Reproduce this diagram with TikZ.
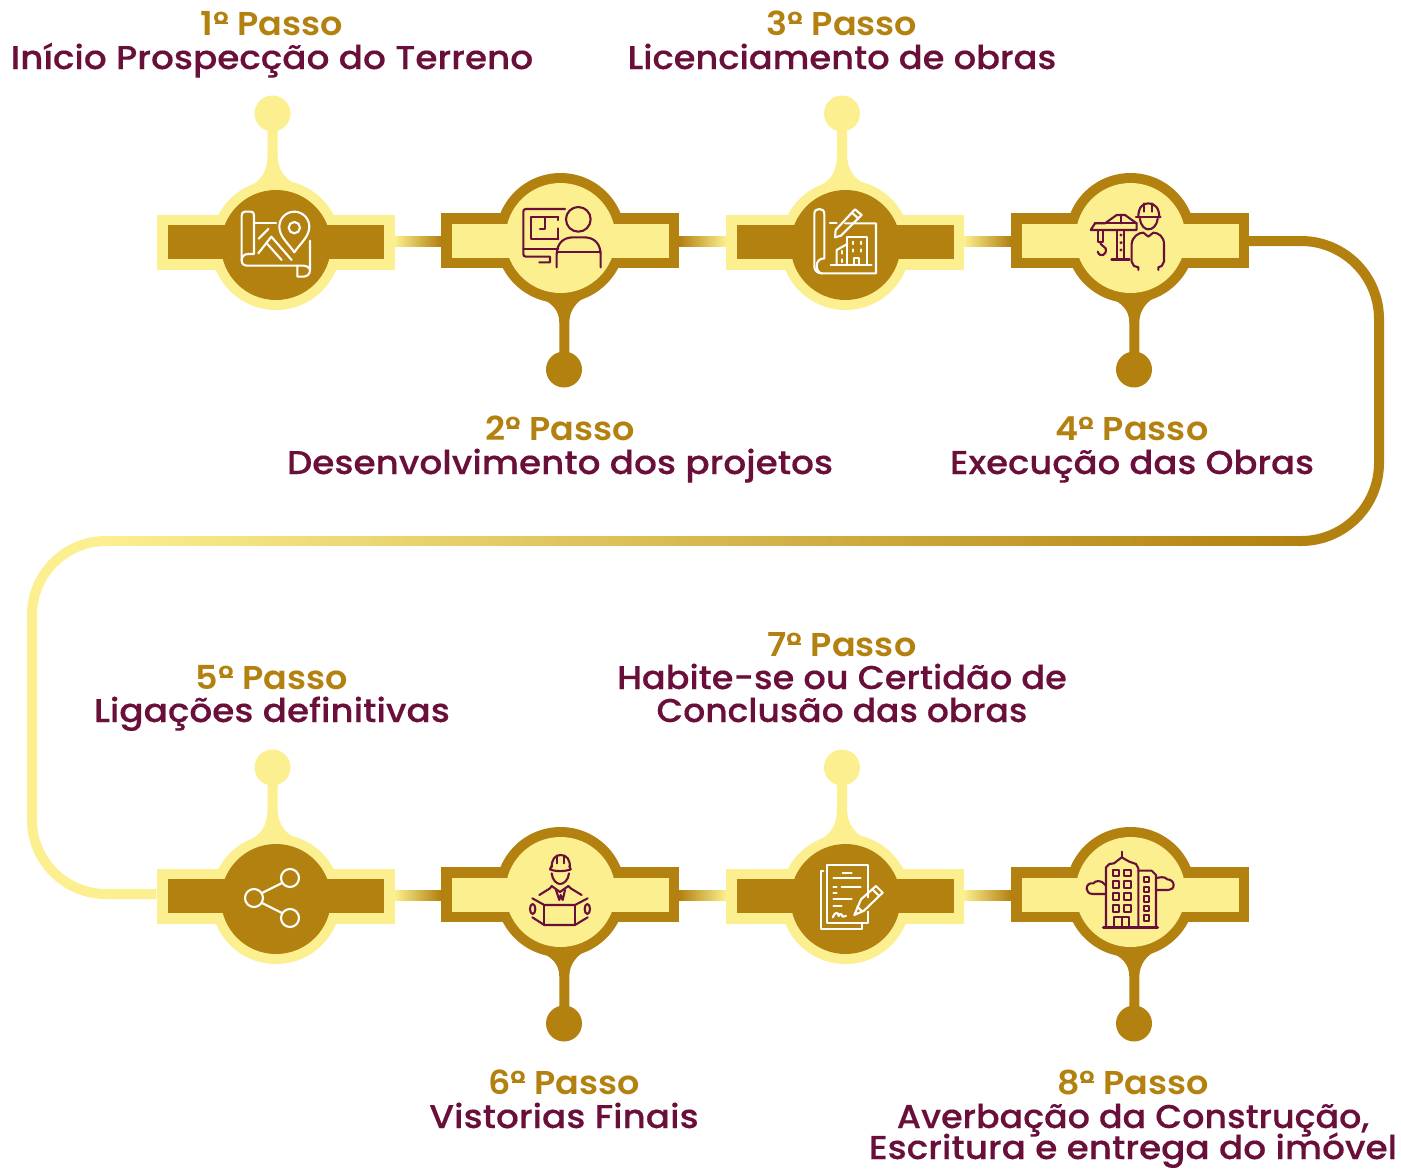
\documentclass[tikz,border=0pt]{standalone}
\usepackage{fontspec}
\usepackage{graphicx}
\usetikzlibrary{calc}
\newfontfamily\stepfont[FakeStretch=1.085,FakeBold=0.3]{Poppins Medium}
\newfontfamily\headfont[FakeStretch=1.06]{Poppins SemiBold}
\definecolor{gold}{HTML}{B38110}
\definecolor{pale}{HTML}{FBEF8F}
\definecolor{wine}{HTML}{6A0F3A}
\newcommand\Ord{\setbox0\hbox{º}\rlap{\hspace{.05em}\rule[.33em]{\dimexpr\wd0-.1em}{.06em}}º}
\tikzset{
  barnode/.style={rectangle,draw=none,inner sep=0pt,minimum width=238pt,minimum height=55pt},
  passo/.style={anchor=base,inner sep=0pt,text=gold,font=\headfont\fontsize{33}{33}\selectfont},
  desc/.style={anchor=base,inner sep=0pt,text=wine,font=\stepfont\fontsize{33}{33}\selectfont},
  ico/.style={line width=2.1pt,line join=round,line cap=round},
}
\newcommand\StepUp[3]{%
  \begin{scope}[shift={(#2,#3)}]
    \node[barnode,fill=pale] (#1) at (-.5,242.5) {};
    \fill[pale] (0,245) circle[radius=65];
    \fill[pale] (-3.5,113.5) circle[radius=18];
    \fill[pale] (-8.5,125) -- (-8.5,153) .. controls (-8.5,172) and (-14,180) .. (-29,188) -- (0,230) -- (24.5,187) .. controls (10,180) and (1.5,172) .. (1.5,153) -- (1.5,125) -- cycle;
    \fill[gold] (-108.5,225) rectangle (108,259);
    \fill[gold] (0,245) circle[radius=55];
  \end{scope}}
\newcommand\StepDown[3]{%
  \begin{scope}[shift={(#2,#3)}]
    \node[barnode,fill=gold] (#1) at (-.5,240.5) {};
    \fill[gold] (0,238) circle[radius=65];
    \fill[gold] (3.5,369.5) circle[radius=18];
    \fill[gold] (-1.2,358) -- (-1.2,323) .. controls (-1.2,310) and (-8,303) .. (-24,296) -- (0,260) -- (26,296) .. controls (16,302) and (8.8,310) .. (8.8,323) -- (8.8,358) -- cycle;
    \fill[pale] (-108.5,224) rectangle (108.5,258);
    \fill[pale] (0,238) circle[radius=55];
  \end{scope}}
\begin{document}
\begin{tikzpicture}[x=1pt,y=-1pt]
\useasboundingbox (0,0) rectangle (1401,1168);
\StepUp{sa}{276}{0}
\StepDown{sb}{560.5}{0}
\StepUp{sc}{845.5}{0}
\StepDown{sd}{1130.5}{0}
\StepUp{se}{276}{654}
\StepDown{sf}{560.5}{654}
\StepUp{sg}{845.5}{654}
\StepDown{sh}{1130.5}{654}
% short links
\shade[left color=pale,right color=gold] ($(sa.east)+(0,-6.5)$) rectangle ($(sb.west)+(0,5.5)$);
\shade[left color=gold,right color=pale] ($(sb.east)+(0,-4.5)$) rectangle ($(sc.west)+(0,3.5)$);
\shade[left color=pale,right color=gold] ($(sc.east)+(0,-6.5)$) rectangle ($(sd.west)+(0,5.5)$);
\shade[left color=pale,right color=gold] ($(se.east)+(0,-6.5)$) rectangle ($(sf.west)+(0,5.5)$);
\shade[left color=gold,right color=pale] ($(sf.east)+(0,-4.5)$) rectangle ($(sg.west)+(0,3.5)$);
\shade[left color=pale,right color=gold] ($(sg.east)+(0,-6.5)$) rectangle ($(sh.west)+(0,5.5)$);
% long path
\coordinate (ra) at (1379,241);
\coordinate (rb) at (1379,541);
\coordinate (rc) at (1300,541);
\coordinate (la) at (105,541);
\coordinate (lb) at (32,541);
\coordinate (lc) at (32,894);
\draw[gold,line width=10pt,rounded corners=78pt] ($(sd.east)+(0,.5)$) -- (ra) -- (rb) -- ($(rc)+(-1,0)$);
\draw[pale,line width=10pt,rounded corners=74pt] ($(la)+(1,0)$) -- (lb) -- (lc) -- ($(se.west)+(0,-2.5)$);
\shade[left color=pale,right color=gold] ($(la)+(0,-4.7)$) rectangle ($(rc)+(0,4.7)$);
% icon 1
\begin{scope}[shift={(140,90)},x=.3333pt,y=-.3333pt,draw=white,ico]
\draw (463,487) .. controls (445,460) and (418,440) .. (418,410) arc[start angle=180,end angle=360,radius=45] .. controls (508,440) and (481,460) .. (463,487) -- cycle;
\draw (463,413) circle[radius=17];
\draw (342,400) -- (408,400);
\draw (342,490) -- (342,375) .. controls (342,368) and (338,365) .. (332,365) -- (315,365) .. controls (308,365) and (305,370) .. (305,377) -- (305,512) .. controls (305,522) and (312,527) .. (322,527) -- (472,527) -- (472,560) -- (490,560) .. controls (502,560) and (510,552) .. (510,540) -- (510,452);
\draw (342,492) -- (325,492) .. controls (310,492) and (305,502) .. (305,512);
\draw (472,527) -- (490,527) .. controls (502,527) and (510,535) .. (510,540);
\draw (385,417) -- (356,446);
\draw (355,490) -- (394,440) -- (455,510);
\draw (382,462) -- (425,510);
\end{scope}
% icon 2
\begin{scope}[shift={(430,160)},x=.3333pt,y=-.3333pt,draw=wine,ico]
\draw (405,147) -- (288,147) .. controls (282,147) and (280,150) .. (280,155) -- (280,282) .. controls (280,288) and (283,290) .. (288,290) -- (360,290) -- (360,307) -- (328,307);
\draw (280,267) -- (385,267);
\draw (385,172) -- (303,172) -- (303,237) -- (385,237);
\draw (385,205) -- (385,237);
\draw (385,172) -- (385,180);
\draw (345,172) -- (345,207) -- (330,207);
\draw (445,178) circle[radius=37];
\draw (380,322) -- (380,285) .. controls (380,250) and (400,232) .. (430,232) -- (462,232) .. controls (492,232) and (512,250) .. (512,285) -- (512,322);
\draw (380,277) -- (512,277);
\end{scope}
% icon 3
\begin{scope}[shift={(770,170)},x=.3333pt,y=-.3333pt,draw=white,ico]
\draw (163,265) -- (163,132) .. controls (163,122) and (157,117) .. (148,117) .. controls (139,117) and (133,122) .. (133,132) -- (133,290) .. controls (133,302) and (143,310) .. (155,310) -- (318,310) -- (318,160) -- (225,160);
\draw (163,265) .. controls (148,265) and (140,275) .. (140,288) .. controls (140,300) and (148,310) .. (155,310);
\draw (180,160) -- (200,160);
\draw (197,180) -- (255,118) -- (275,135) -- (213,197) -- (195,202) -- cycle;
\draw (246,128) -- (265,146);
\draw (232,285) -- (232,200) -- (290,200) -- (290,285);
\draw (200,285) -- (200,240) -- (232,222);
\draw (182,285) -- (305,285);
\draw (252,285) -- (252,265) -- (268,265) -- (268,285);
\foreach \wx in {250,272} {\foreach \wy in {215,238} {\draw (\wx,\wy) -- (\wx,\wy+7);}}
\foreach \wy in {243,268} {\draw (216,\wy) -- (216,\wy+8);}
\end{scope}
% icon 4
\begin{scope}[shift={(1060,170)},x=.3333pt,y=-.3333pt,draw=wine,ico]
\draw (92,180) -- (105,160) -- (135,160) -- (170,135) -- (195,135) -- (230,160) -- (230,180) -- cycle;
\draw (105,160) -- (230,160);
\draw (182,135) -- (182,160);
\draw (170,180) -- (170,268);
\draw (193,180) -- (193,268);
\draw[line width=2.8pt] (155,268) -- (208,268);
\foreach \dy in {195,218,240} {\fill[wine] (183,\dy) circle[radius=5];}
\draw (113,182) -- (113,215) -- (130,215) -- (130,182);
\draw (122,215) -- (122,222) -- (137,235);
\draw (137,235) .. controls (142,255) and (120,265) .. (113,245);
\draw (235,142) .. controls (235,115) and (245,100) .. (265,100) .. controls (285,100) and (298,115) .. (298,142);
\draw (228,142) -- (302,142);
\draw (240,146) .. controls (242,168) and (255,178) .. (265,178) .. controls (278,178) and (290,168) .. (293,146);
\draw (252,100) -- (252,125);
\draw (275,100) -- (275,125);
\draw (235,300) -- (235,292) -- (222,288) -- (215,275) -- (215,222) .. controls (217,200) and (235,188) .. (250,188) -- (265,200) -- (280,188) .. controls (295,188) and (312,200) .. (312,222) -- (312,275) -- (305,288) -- (295,292) -- (295,300);
\end{scope}
% icon 5
\begin{scope}[draw=white,ico]
\draw (290,878) circle[radius=9];
\draw (254,898) circle[radius=9];
\draw (290,918) circle[radius=9];
\draw (262,893) -- (282,883);
\draw (262,903) -- (282,913);
\end{scope}
% icon 6
\begin{scope}[shift={(500,830)},x=.3333pt,y=-.3333pt,draw=wine,ico]
\draw (155,112) .. controls (155,88) and (165,75) .. (182,75) .. controls (200,75) and (210,88) .. (210,112);
\draw (150,118) .. controls (165,125) and (195,125) .. (212,118);
\draw (150,118) -- (155,108);
\draw (212,118) -- (208,108);
\draw (172,77) -- (172,100);
\draw (192,77) -- (192,100);
\draw (155,130) .. controls (157,150) and (170,162) .. (180,162) .. controls (192,162) and (205,150) .. (207,130);
\draw (118,195) -- (150,175) -- (155,168) -- (180,186) -- (205,168) -- (212,175) -- (245,195);
\draw (168,180) -- (178,210) -- (182,195) -- (188,210) -- (195,180);
\draw (97,205) -- (133,225) -- (225,225) -- (263,205);
\draw (97,262) -- (133,285) -- (225,285) -- (263,262);
\draw (133,225) -- (133,285);
\draw (225,225) -- (225,285);
\draw (98,237) ellipse[x radius=8,y radius=15];
\draw (262,237) ellipse[x radius=8,y radius=15];
\end{scope}
% icon 7
\begin{scope}[shift={(790,840)},x=.3333pt,y=-.3333pt,draw=white,ico]
\draw (235,172) -- (235,75) -- (110,75) -- (110,250) -- (235,250) -- (235,215);
\draw (100,93) -- (92,93) -- (92,268) -- (215,268) -- (215,252);
\draw (158,98) -- (185,98);
\draw (130,115) -- (212,115);
\draw (130,140) -- (140,140);
\draw (155,140) -- (212,140);
\draw (130,160) -- (140,160);
\draw (130,178) -- (185,178);
\draw (130,198) -- (155,198);
\draw (128,232) .. controls (135,215) and (145,215) .. (146,228) .. controls (150,218) and (155,222) .. (158,230) -- (168,228);
\draw (213,178) -- (258,138) -- (278,158) -- (222,212) -- (193,225) -- cycle;
\draw (247,148) -- (268,168);
\draw (202,200) -- (216,214);
\end{scope}
% icon 8
\begin{scope}[shift={(1070,840)},x=.3333pt,y=-.3333pt,draw=wine,ico]
\draw (108,262) -- (108,82) -- (118,72) -- (132,70) -- (155,52) -- (178,65) -- (198,72) -- (205,85) -- (205,262);
\draw (155,35) -- (155,52);
\draw (205,92) -- (245,92) -- (258,105) -- (258,262);
\draw[line width=2.8pt] (100,262) -- (263,262);
\foreach \wx in {128,163} {\foreach \wy in {89,124,160,195} {\draw (\wx,\wy) rectangle (\wx+20,\wy+20);}}
\foreach \wy in {111,140,169,197,226} {\draw (221,\wy) rectangle (237,\wy+16);}
\draw (132,262) -- (132,232) -- (178,232) -- (178,262);
\draw (155,232) -- (155,262);
\draw (106,162) -- (68,162) .. controls (55,162) and (50,152) .. (50,146) .. controls (50,135) and (58,128) .. (70,130) .. controls (75,122) and (95,118) .. (106,135);
\draw (258,115) .. controls (265,112) and (285,108) .. (292,118) .. controls (305,118) and (311,128) .. (311,135) .. controls (311,145) and (303,150) .. (295,150) -- (258,150);
\end{scope}
% texts
\node[passo] (ta) at (272,35) {1\Ord{} Passo};
\node[desc] (tb) at (272,69) {Início Prospecção do Terreno};
\node[passo] (tc) at (842,35) {3\Ord{} Passo};
\node[desc] (td) at (842,69) {\scalebox{.985}[1]{Licenciamento de obras}};
\node[passo] (te) at (560,440) {2\Ord{} Passo};
\node[desc] (tf) at (560,474) {Desenvolvimento dos projetos};
\node[passo] (tg) at (1132,440) {4\Ord{} Passo};
\node[desc] (th) at (1132,474) {\scalebox{.99}[1]{Execução das Obras}};
\node[passo] (ti) at (272,689) {5\Ord{} Passo};
\node[desc] (tj) at (272,722) {Ligações definitivas};
\node[passo] (tk) at (842,656) {7\Ord{} Passo};
\node[desc] (tl) at (842,689) {\scalebox{.98}[1]{Habite-se ou Certidão de}};
\node[desc] (tm) at (842,722) {\scalebox{.964}[1]{Conclusão das obras}};
\node[passo] (tn) at (564,1094) {6\Ord{} Passo};
\node[desc] (to) at (564,1128) {Vistorias Finais};
\node[passo] (tp) at (1133,1094) {8\Ord{} Passo};
\node[desc] (tq) at (1133,1128) {\scalebox{.973}[1]{Averbação da Construção,}};
\node[desc] (tr) at (1133,1159) {Escritura e entrega do imóvel};
\end{tikzpicture}
\end{document}
